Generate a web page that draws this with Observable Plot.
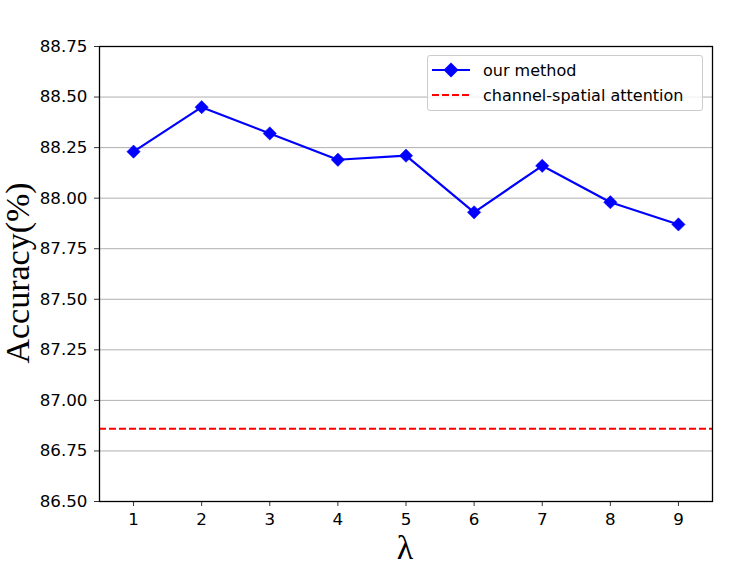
<!DOCTYPE html>
<html>
<head>
<meta charset="utf-8">
<script src="https://cdn.jsdelivr.net/npm/d3@7"></script>
<script src="https://cdn.jsdelivr.net/npm/@observablehq/plot@0.6"></script>
<style>
  body { margin: 0; background: #fff; overflow: hidden; }
  #wrap { position: relative; width: 747px; height: 566px; overflow: hidden; }
  #legend {
    position: absolute; left: 427px; top: 55px; width: 276px; height: 56px;
    border: 1px solid #cccccc; border-radius: 3px; background: rgba(255,255,255,0.8);
    font-family: "DejaVu Sans", sans-serif; font-size: 16px; color: #000;
    box-sizing: border-box;
  }
  .row { position: absolute; left: 0; height: 22px; display: flex; align-items: center; }
  .row svg { margin-left: 4px; margin-right: 13px; }
  .ylab {
    position: absolute; font-family: "Liberation Serif", "Times New Roman", serif; line-height: 1;
  }
</style>
</head>
<body>
<div id="wrap"></div>
<script>
const lambdas = [1, 2, 3, 4, 5, 6, 7, 8, 9];
const ourMethod = [88.23, 88.45, 88.32, 88.19, 88.21, 87.93, 88.16, 87.98, 87.87];
const channelSpatial = 86.86;
const yTicks = [86.5, 86.75, 87.0, 87.25, 87.5, 87.75, 88.0, 88.25, 88.5, 88.75];
const seriesNames = ["our method", "channel-spatial attention"];

const data = lambdas.map((l, i) => ({lambda: l, acc: ourMethod[i]}));

const chart = Plot.plot({
  width: 747,
  height: 566,
  marginLeft: 99,
  marginRight: 35,
  marginTop: 46,
  marginBottom: 65,
  style: {fontFamily: "DejaVu Sans, sans-serif", fontSize: "16.7px", color: "#000", background: "#fff"},
  x: {domain: [0.5, 9.5], label: null},
  y: {domain: [86.5, 88.75], label: null},
  marks: [
    Plot.gridY(yTicks, {stroke: "#b0b0b0", strokeOpacity: 1, strokeWidth: 1}),
    Plot.ruleY([channelSpatial], {stroke: "#ff0000", strokeWidth: 2, strokeDasharray: "7,3"}),
    Plot.line(data, {x: "lambda", y: "acc", stroke: "#0000ff", strokeWidth: 2.2}),
    Plot.dot(data, {x: "lambda", y: "acc", symbol: "diamond2", r: 6, fill: "#0000ff", stroke: "#0000ff", strokeWidth: 0.5}),
    Plot.axisX({ticks: lambdas, tickFormat: d3.format("d"), tickSize: 5, tickPadding: 7, label: null, stroke: "#333"}),
    Plot.axisY({ticks: yTicks, tickFormat: d3.format(".2f"), tickSize: 5, tickPadding: 7, label: null, stroke: "#333"}),
    Plot.frame({stroke: "#000", strokeWidth: 1.3})
  ]
});

const wrap = document.getElementById("wrap");
wrap.appendChild(chart);

// Axis titles
const ylab = document.createElement("div");
ylab.className = "ylab";
ylab.textContent = "Accuracy(%)";
ylab.style.fontSize = "34px";
ylab.style.left = "18px";
ylab.style.top = "273px";
ylab.style.transform = "translate(-50%, -50%) rotate(-90deg)";
ylab.style.whiteSpace = "nowrap";
wrap.appendChild(ylab);

const xlab = document.createElement("div");
xlab.className = "ylab";
xlab.textContent = "λ";
xlab.style.fontSize = "34px";
xlab.style.left = "405px";
xlab.style.top = "548px";
xlab.style.transform = "translate(-50%, -50%)";
wrap.appendChild(xlab);

// Legend
const legend = document.createElement("div");
legend.id = "legend";
const r1 = document.createElement("div");
r1.className = "row"; r1.style.top = "3px";
r1.innerHTML = '<svg width="38" height="16"><line x1="0" y1="8" x2="38" y2="8" stroke="#0000ff" stroke-width="2"/><path d="M19,0.5L26.5,8L19,15.5L11.5,8Z" fill="#0000ff"/></svg>';
const t1 = document.createElement("span"); t1.textContent = seriesNames[0]; r1.appendChild(t1);
const r2 = document.createElement("div");
r2.className = "row"; r2.style.top = "28px";
r2.innerHTML = '<svg width="38" height="16"><line x1="0" y1="8" x2="38" y2="8" stroke="#ff0000" stroke-width="2" stroke-dasharray="7,3"/></svg>';
const t2 = document.createElement("span"); t2.textContent = seriesNames[1]; r2.appendChild(t2);
legend.appendChild(r1); legend.appendChild(r2);
wrap.appendChild(legend);
</script>
</body>
</html>
